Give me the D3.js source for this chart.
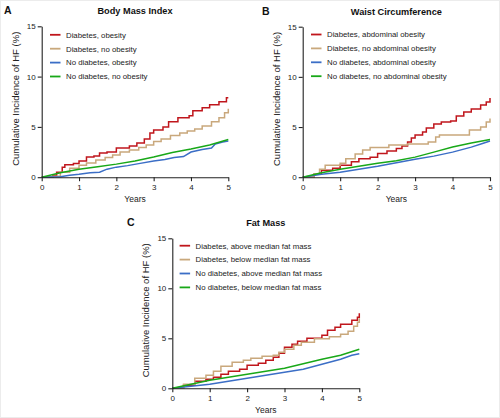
<!DOCTYPE html>
<html>
<head>
<meta charset="utf-8">
<title>Cumulative Incidence of HF</title>
<style>
  body { margin: 0; background: #fff; }
  svg { font-family: "Liberation Sans", Arial, sans-serif; }
</style>
</head>
<body>
<script src="https://d3js.org/d3.v7.min.js"></script>
<script>

// ---- data: [year, cumulative incidence %] ----
var yearTicks = [0, 1, 2, 3, 4, 5];
var pctTicks  = [0, 5, 10, 15];

// A: Body mass index
var bmiLabels = ["Diabetes, obesity", "Diabetes, no obesity", "No diabetes, obesity", "No diabetes, no obesity"];
var bmiDiabObese   = [[0,0],[0.3,0.2],[0.4,0.5],[0.55,1.0],[0.62,1.25],[0.85,1.35],[1.0,1.6],[1.2,2.0],[1.4,2.1],[1.55,2.4],[1.75,2.5],[2.0,2.9],[2.35,3.1],[2.55,3.4],[2.75,3.8],[2.9,4.4],[3.0,4.7],[3.25,5.0],[3.4,5.5],[3.65,5.9],[3.95,6.1],[4.05,6.6],[4.3,6.9],[4.5,7.2],[4.75,7.5],[4.95,7.9],[5.0,7.9]];
var bmiDiabNoObese = [[0,0],[0.3,0.1],[0.5,0.5],[0.75,0.9],[1.0,1.2],[1.2,1.4],[1.45,1.7],[1.7,1.95],[1.9,2.2],[2.1,2.5],[2.35,2.7],[2.6,2.95],[2.8,3.2],[3.0,3.55],[3.2,3.8],[3.45,4.15],[3.7,4.4],[3.9,4.6],[4.1,4.8],[4.3,5.1],[4.55,5.5],[4.75,5.9],[4.9,6.4],[5.0,6.8]];
var bmiNoDiabObese = [[0,0],[0.5,0.05],[0.75,0.2],[1.0,0.3],[1.3,0.45],[1.55,0.5],[1.75,0.8],[2.0,1.0],[2.3,1.15],[2.6,1.35],[3.0,1.6],[3.3,1.75],[3.55,1.95],[3.8,2.05],[4.0,2.5],[4.3,2.75],[4.55,2.9],[4.65,3.3],[4.85,3.5],[5.0,3.6]];
var bmiNoDiabNo    = [[0,0],[0.5,0.45],[1.0,0.8],[1.5,1.05],[2.0,1.3],[2.5,1.6],[3.0,2.0],[3.5,2.45],[4.0,2.8],[4.5,3.2],[5.0,3.75]];

// B: Waist circumference
var wcLabels = ["Diabetes, abdominal obesity", "Diabetes, no abdominal obesity", "No diabetes, abdominal obesity", "No diabetes, no abdominal obesity"];
var wcDiabObese   = [[0,0],[0.3,0.3],[0.5,0.7],[0.8,0.9],[1.0,1.2],[1.3,1.55],[1.5,1.85],[1.8,2.0],[2.0,2.35],[2.25,2.6],[2.5,2.85],[2.65,3.1],[2.8,3.5],[2.9,3.9],[3.0,4.2],[3.2,4.5],[3.3,4.9],[3.5,5.3],[3.7,5.5],[3.95,5.6],[4.1,6.1],[4.3,6.5],[4.5,6.8],[4.75,7.2],[4.9,7.5],[5.0,7.9]];
var wcDiabNoObese = [[0,0],[0.3,0.3],[0.45,0.8],[0.6,1.2],[1.0,1.4],[1.15,1.85],[1.4,2.3],[1.6,2.7],[1.8,2.95],[2.3,3.2],[2.8,3.3],[3.35,3.5],[3.55,4.0],[3.65,4.2],[4.45,4.7],[4.75,5.0],[4.9,5.5],[5.0,5.85]];
var wcNoDiabObese = [[0,0],[0.5,0.3],[1.0,0.5],[1.5,0.8],[2.0,1.1],[2.5,1.45],[3.0,1.8],[3.5,2.1],[4.0,2.5],[4.5,3.0],[4.8,3.35],[5.0,3.6]];
var wcNoDiabNo    = [[0,0],[0.5,0.45],[1.0,0.8],[1.5,1.1],[2.0,1.4],[2.5,1.65],[3.0,2.0],[3.5,2.5],[4.0,3.0],[4.5,3.4],[5.0,3.75]];

// C: Fat mass
var fmLabels = ["Diabetes, above median fat mass", "Diabetes, below median fat mass", "No diabetes, above median fat mass", "No diabetes, below median fat mass"];
var fmDiabAbove    = [[0,0],[0.3,0.3],[0.6,0.7],[0.9,0.9],[1.1,1.1],[1.3,1.4],[1.5,1.7],[1.8,1.9],[2.0,2.3],[2.3,2.5],[2.5,2.8],[2.7,3.1],[2.85,3.5],[3.0,4.1],[3.2,4.4],[3.35,4.7],[3.6,5.0],[4.0,5.3],[4.15,5.8],[4.35,6.1],[4.5,6.4],[4.8,6.8],[4.95,7.1],[5.0,7.5]];
var fmDiabBelow    = [[0,0],[0.3,0.4],[0.6,1.0],[0.9,1.3],[1.1,1.7],[1.3,2.2],[1.6,2.6],[1.9,2.8],[2.1,3.0],[2.4,3.2],[2.7,3.3],[2.85,3.6],[3.0,3.9],[3.25,4.3],[3.45,4.6],[3.8,4.95],[4.2,5.15],[4.5,5.4],[4.7,5.7],[4.85,6.2],[4.95,6.6],[5.0,7.0]];
var fmNoDiabAbove  = [[0,0],[0.5,0.2],[1.0,0.4],[1.5,0.7],[2.0,1.0],[2.5,1.3],[3.0,1.6],[3.5,1.9],[4.0,2.4],[4.5,2.9],[4.8,3.3],[5.0,3.45]];
var fmNoDiabBelow  = [[0,0],[0.5,0.4],[1.0,0.8],[1.5,1.1],[2.0,1.4],[2.5,1.7],[3.0,2.0],[3.5,2.45],[4.0,2.9],[4.5,3.3],[5.0,3.9]];

var colors = ["#c0161c", "#c9a87c", "#3b6ec6", "#18a818"];
var stepped = [true, true, false, false];

var svg = d3.select("body")
    .append("svg")
    .attr("width", 500)
    .attr("height", 418);

svg.append("rect")
    .attr("x", 0.5).attr("y", 0.5)
    .attr("width", 499).attr("height", 417)
    .attr("fill", "#fff")
    .attr("stroke", "#ececec");

function drawPanel(p) {
    var x = d3.scaleLinear().domain([0, 5]).range([p.left, p.right]);
    var y = d3.scaleLinear().domain([0, 15]).range([p.bottom, p.top]);

    var g = svg.append("g");

    // lines first so the axes sit on top
    p.series.forEach(function(s, i) {
        var line = d3.line()
            .x(function(d) { return x(d[0]); })
            .y(function(d) { return y(d[1]); })
            .curve(stepped[i] ? d3.curveStepAfter : d3.curveLinear);
        g.append("path")
            .datum(s)
            .attr("d", line)
            .style("fill", "none")
            .style("stroke", colors[i])
            .style("stroke-width", "1.5px");
    });

    var xAxis = g.append("g")
        .attr("transform", "translate(0," + p.bottom + ")")
        .call(d3.axisBottom(x).tickValues(yearTicks).tickSize(4).tickSizeOuter(0).tickFormat(d3.format("d")));
    var yAxis = g.append("g")
        .attr("transform", "translate(" + p.left + ",0)")
        .call(d3.axisLeft(y).tickValues(pctTicks).tickSize(4).tickSizeOuter(0));

    [xAxis, yAxis].forEach(function(a) {
        a.select(".domain").attr("stroke", "#222").attr("stroke-width", 1.1);
        a.selectAll(".tick line").attr("stroke", "#222").attr("stroke-width", 1.1);
        a.selectAll(".tick text")
            .attr("font-family", "Liberation Sans, Arial, sans-serif")
            .attr("font-size", "8px")
            .attr("fill", "#222");
    });
    xAxis.selectAll(".tick text").attr("y", 7);
    yAxis.selectAll(".tick text").attr("x", -6);

    g.append("text")
        .attr("x", (p.left + p.right) / 2)
        .attr("y", p.bottom + 25)
        .attr("text-anchor", "middle")
        .attr("font-size", "8.5px")
        .attr("fill", "#222")
        .text("Years");

    g.append("text")
        .attr("transform", "translate(" + (p.left - 23) + "," + ((p.top + p.bottom) / 2 - 3) + ") rotate(-90)")
        .attr("text-anchor", "middle")
        .attr("font-size", "9.5px")
        .attr("fill", "#222")
        .text("Cumulative Incidence of HF (%)");

    g.append("text")
        .attr("x", (p.left + p.right) / 2)
        .attr("y", p.top - 12)
        .attr("text-anchor", "middle")
        .attr("font-weight", "bold")
        .attr("font-size", "9.2px")
        .attr("fill", "#111")
        .text(p.title);

    g.append("text")
        .attr("x", p.letterX)
        .attr("y", p.top - 12)
        .attr("font-weight", "bold")
        .attr("font-size", "10.5px")
        .attr("fill", "#111")
        .text(p.letter);

    // legend
    p.labels.forEach(function(lab, i) {
        var ly = p.top + p.legendTop + i * 13.9;
        g.append("line")
            .attr("x1", p.left + p.legendDx).attr("x2", p.left + p.legendDx + 10.5)
            .attr("y1", ly).attr("y2", ly)
            .attr("stroke", colors[i])
            .attr("stroke-width", 1.8);
        g.append("text")
            .attr("x", p.left + p.legendDx + 16)
            .attr("y", ly + 2.8)
            .attr("font-size", "7.8px")
            .attr("fill", "#222")
            .text(lab);
    });
}

drawPanel({
    letter: "A", letterX: 4, title: "Body Mass Index",
    left: 41.7, right: 228.3, top: 26.3, bottom: 177.2,
    legendTop: 8.5, legendDx: 8.3,
    labels: bmiLabels,
    series: [bmiDiabObese, bmiDiabNoObese, bmiNoDiabObese, bmiNoDiabNo]
});

drawPanel({
    letter: "B", letterX: 262, title: "Waist Circumference",
    left: 302.7, right: 490, top: 26.7, bottom: 177.2,
    legendTop: 7.8, legendDx: 8.3,
    labels: wcLabels,
    series: [wcDiabObese, wcDiabNoObese, wcNoDiabObese, wcNoDiabNo]
});

drawPanel({
    letter: "C", letterX: 127, title: "Fat Mass",
    left: 172.3, right: 359.3, top: 238.3, bottom: 388.3,
    legendTop: 7.4, legendDx: 7.3,
    labels: fmLabels,
    series: [fmDiabAbove, fmDiabBelow, fmNoDiabAbove, fmNoDiabBelow]
});

</script>
</body>
</html>
